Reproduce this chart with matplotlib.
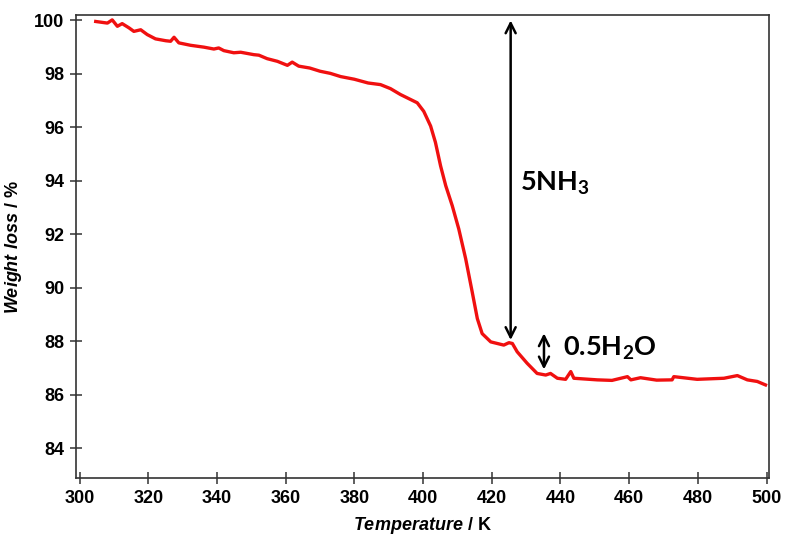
import matplotlib
matplotlib.use('Agg')
import matplotlib.pyplot as plt

# TGA curve -----------------------------------------------------------------
TEMP = [304.7, 308.1, 309.5, 311.0, 312.4, 314.4, 315.8, 317.8, 319.7, 322.1,
        325.1, 326.5, 327.5, 328.9, 332.3, 336.2, 339.1, 340.5, 342.0, 344.9,
        346.9, 350.7, 352.2, 354.6, 357.6, 360.5, 361.9, 363.8, 367.0, 370.0,
        373.0, 376.0, 380.0, 384.0, 387.6, 390.5, 393.4, 398.3, 400.2, 402.2,
        403.6, 405.1, 406.6, 408.5, 410.4, 412.4, 414.3, 415.8, 417.2, 419.7,
        423.5, 425.0, 426.0, 427.4, 430.3, 433.2, 435.7, 437.1, 439.1, 441.5,
        443.0, 443.9, 450.7, 455.0, 459.5, 460.5, 463.3, 468.0, 472.5, 473.0,
        479.8, 487.6, 491.5, 494.4, 497.3, 499.7]
WEIGHT = [99.96, 99.90, 100.02, 99.78, 99.88, 99.72, 99.59, 99.65, 99.47, 99.31,
          99.24, 99.22, 99.37, 99.16, 99.07, 99.00, 98.93, 98.97, 98.87, 98.79,
          98.81, 98.72, 98.70, 98.57, 98.47, 98.32, 98.44, 98.29, 98.22, 98.10,
          98.02, 97.90, 97.80, 97.66, 97.60, 97.45, 97.23, 96.92, 96.60, 96.05,
          95.44, 94.56, 93.82, 93.07, 92.20, 91.09, 89.85, 88.85, 88.29, 87.98,
          87.86, 87.95, 87.92, 87.61, 87.18, 86.80, 86.74, 86.80, 86.62, 86.58,
          86.87, 86.62, 86.56, 86.54, 86.68, 86.56, 86.64, 86.55, 86.56, 86.68,
          86.58, 86.62, 86.72, 86.56, 86.50, 86.37]

X_TICKS = list(range(300, 501, 20))
Y_TICKS = list(range(84, 101, 2))

# mass-loss steps: (temperature, top, bottom, label)
STEP_NH3 = (425.5, 100.0, 88.05, '5NH$_3$')
STEP_H2O = (435.2, 88.30, 86.95, '0.5H$_2$O')

plt.rcParams['mathtext.fontset'] = 'custom'
plt.rcParams['mathtext.rm'] = 'Lato:bold'
plt.rcParams['mathtext.bf'] = 'Liberation Sans:bold'
plt.rcParams['mathtext.bfit'] = 'Liberation Sans:bold:italic'

fig = plt.figure(figsize=(7.85, 5.38), dpi=100)
ax = fig.add_axes([0.097, 0.112, 0.883, 0.86])

ax.plot(TEMP, WEIGHT, color='#f01010', lw=2.4)

for (t, top, bot, lab) in (STEP_NH3, STEP_H2O):
    ax.annotate('', xy=(t, bot), xytext=(t, top),
                arrowprops=dict(arrowstyle='<->', lw=1.8, color='black',
                                mutation_scale=18, shrinkA=0, shrinkB=0))

ax.text(428.3, 93.9, STEP_NH3[3], fontsize=19.5, family='Lato',
        fontweight='bold', va='center', ha='left')
ax.text(440.6, 87.75, STEP_H2O[3], fontsize=19.5, family='Lato',
        fontweight='bold', va='center', ha='left')

ax.set_xlim(299.0, 500.8)
ax.set_ylim(82.9, 100.2)
ax.set_xticks(X_TICKS)
ax.set_yticks(Y_TICKS)
ax.tick_params(direction='inout', length=9, width=1.1, color='#333333',
               labelsize=13, pad=4)
for lab in ax.get_xticklabels() + ax.get_yticklabels():
    lab.set_family('Liberation Sans')
    lab.set_fontweight('bold')
for sp in ax.spines.values():
    sp.set_color('#333333')
    sp.set_linewidth(1.2)

ax.set_xlabel(r'$\mathbfit{Temperature}$ / K', fontsize=13,
              family='Liberation Sans', fontweight='bold', labelpad=6)
ax.set_ylabel(r'$\mathbfit{Weight\ loss}$ / %', fontsize=13,
              family='Liberation Sans', fontweight='bold', labelpad=7)

fig.savefig('out.png', dpi=100)
